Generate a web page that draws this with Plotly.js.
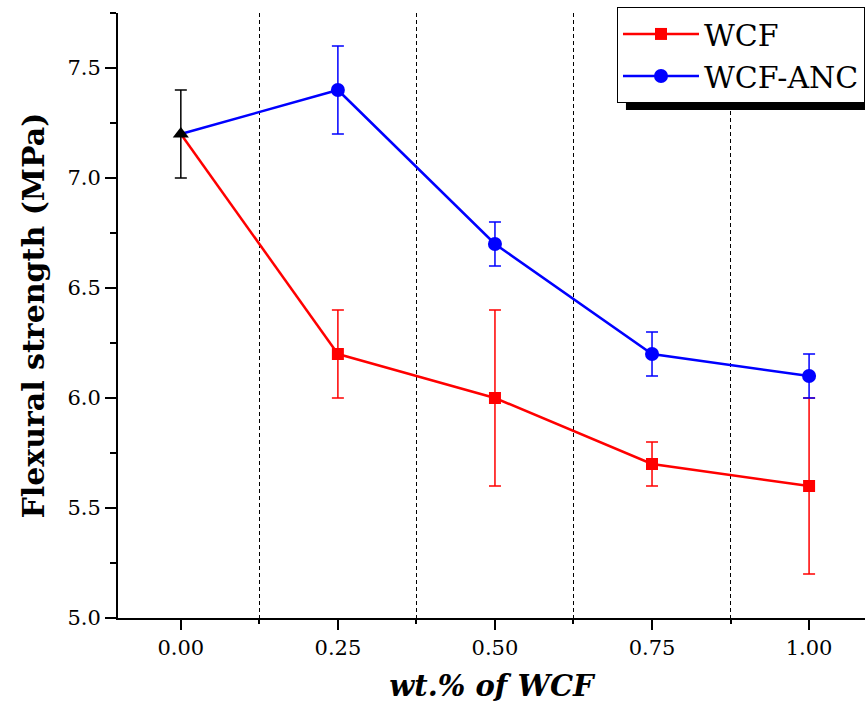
<!DOCTYPE html>
<html>
<head>
<meta charset="utf-8">
<script src="https://cdn.plot.ly/plotly-3.0.1.min.js"></script>
<style>html,body{margin:0;padding:0;background:#fff;overflow:hidden}#chart{width:865px;height:706px}</style>
</head>
<body>
<div id="chart"></div>
<script>
// Data
const xControl = [0];
const yControl = [7.2];
const errControl = [0.2];

const xWCF = [0, 0.25, 0.5, 0.75, 1.0];
const yWCF = [7.2, 6.2, 6.0, 5.7, 5.6];
const errWCF = [0.2, 0.2, 0.4, 0.1, 0.4];

const xANC = [0, 0.25, 0.5, 0.75, 1.0];
const yANC = [7.2, 7.4, 6.7, 6.2, 6.1];
const errANC = [0.2, 0.2, 0.1, 0.1, 0.1];

const xTickVals = [0, 0.25, 0.5, 0.75, 1.0];
const xTickText = ['0.00', '0.25', '0.50', '0.75', '1.00'];
const yTickVals = [5.0, 5.5, 6.0, 6.5, 7.0, 7.5];
const yTickText = ['5.0', '5.5', '6.0', '6.5', '7.0', '7.5'];

const serif = 'DejaVu Serif, Liberation Serif, serif';
const RED = '#ff0000', BLUE = '#0000ff';

const traces = [
  // connecting segments from the shared control point (first point of each series)
  {
    x: xWCF.slice(0, 2), y: yWCF.slice(0, 2), type: 'scatter', mode: 'lines', showlegend: false,
    line: {color: RED, width: 2.5}
  },
  {
    x: xANC.slice(0, 2), y: yANC.slice(0, 2), type: 'scatter', mode: 'lines', showlegend: false,
    line: {color: BLUE, width: 2.5}
  },
  {
    x: xWCF.slice(1), y: yWCF.slice(1), name: 'WCF', type: 'scatter', mode: 'lines+markers',
    line: {color: RED, width: 2.5},
    marker: {symbol: 'square', size: 12, color: RED, opacity: 1},
    error_y: {type: 'data', array: errWCF.slice(1), visible: true, color: RED, thickness: 1.5, width: 6}
  },
  {
    x: xANC.slice(1), y: yANC.slice(1), name: 'WCF-ANC', type: 'scatter', mode: 'lines+markers',
    line: {color: BLUE, width: 2.5},
    marker: {symbol: 'circle', size: 14, color: BLUE, opacity: 1},
    error_y: {type: 'data', array: errANC.slice(1), visible: true, color: BLUE, thickness: 1.5, width: 6}
  },
  {
    x: xControl, y: yControl, name: 'Control', type: 'scatter', mode: 'markers', showlegend: false,
    marker: {symbol: 'triangle-up', size: 14, color: '#000000', opacity: 1},
    error_y: {type: 'data', array: errControl, visible: true, color: '#000000', thickness: 1.5, width: 6}
  }
];

const layout = {
  width: 865, height: 706,
  margin: {l: 118, r: 0, t: 13, b: 88},
  paper_bgcolor: '#ffffff', plot_bgcolor: '#ffffff',
  showlegend: true,
  legend: {
    x: 0.668, y: 1.01, xanchor: 'left', yanchor: 'top',
    bgcolor: '#ffffff', bordercolor: '#000000', borderwidth: 1,
    font: {family: serif, size: 30, color: '#000000'},
    itemwidth: 76, tracegroupgap: 0
  },
  xaxis: {
    range: [-0.1, 1.089], tickvals: xTickVals, ticktext: xTickText,
    showgrid: false, zeroline: false,
    showline: true, linecolor: '#000000', linewidth: 2,
    ticks: 'outside', ticklen: 10, tickwidth: 2, tickcolor: '#000000',
    tickfont: {family: serif, size: 21, color: '#000000'},
    minor: {tick0: 0.125, dtick: 0.25, showgrid: true, griddash: '4px,3px', gridcolor: '#000000', gridwidth: 1, ticks: 'outside', ticklen: 4, tickcolor: '#000000'},
    title: {text: '<b><i>wt.% of WCF</i></b>', font: {family: serif, size: 29, color: '#000000'}, standoff: 16}
  },
  yaxis: {
    range: [5.0, 7.75], tickvals: yTickVals, ticktext: yTickText,
    showgrid: false, zeroline: false,
    showline: true, linecolor: '#000000', linewidth: 2,
    ticks: 'outside', ticklen: 11, tickwidth: 2, tickcolor: '#000000',
    tickfont: {family: serif, size: 21, color: '#000000'},
    minor: {tick0: 5.0, dtick: 0.25, ticks: 'outside', ticklen: 6, tickwidth: 2, tickcolor: '#000000', showgrid: false},
    title: {text: '<b>Flexural strength (MPa)</b>', font: {family: serif, size: 30, color: '#000000'}, standoff: 14}
  },
  shapes: [
    {type: 'rect', xref: 'paper', yref: 'paper', x0: 0.680, x1: 1.01, y0: 0.8397, y1: 0.853,
     fillcolor: '#000000', line: {width: 0}, layer: 'above'}
  ]
};

Plotly.newPlot('chart', traces, layout, {displayModeBar: false, staticPlot: true});
</script>
</body>
</html>
